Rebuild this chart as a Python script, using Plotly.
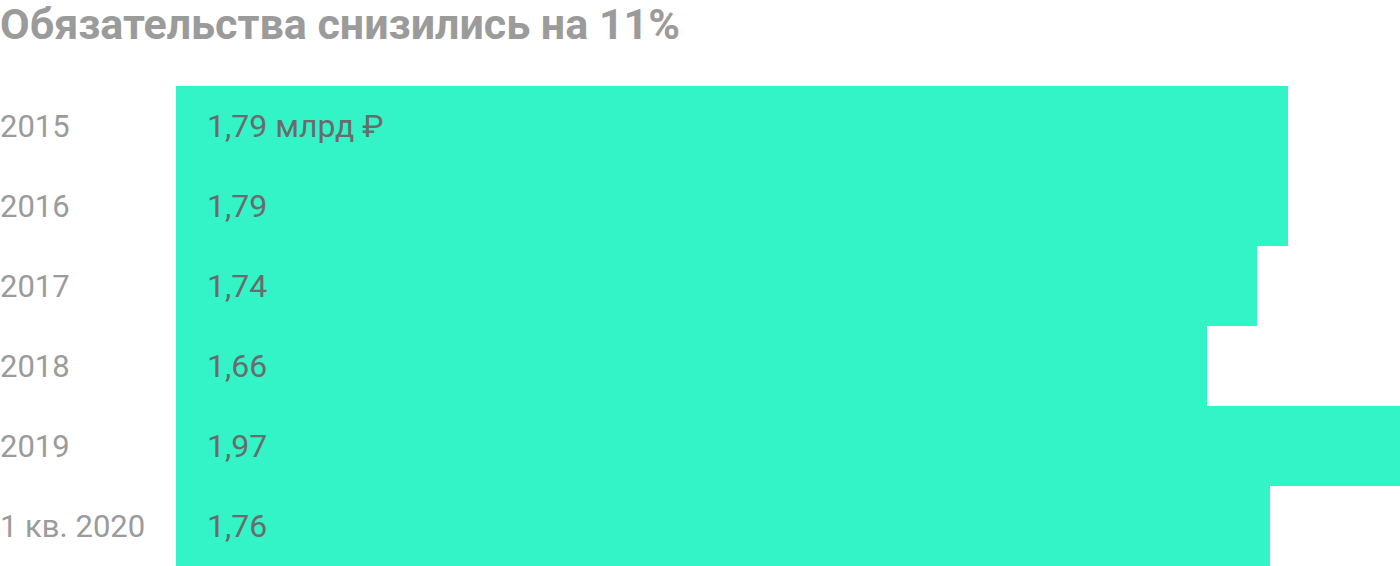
import plotly.graph_objects as go

CATEGORIES = ["2015", "2016", "2017", "2018", "2019", "1 кв. 2020"]
VALUES = [1.79, 1.79, 1.74, 1.66, 1.97, 1.76]
BAR_LABELS = ["1,79 млрд ₽", "1,79", "1,74", "1,66", "1,97", "1,76"]

TITLE = "Обязательства снизились на 11%"
BAR_COLOR = "#33F4C6"
GREY = "#9B9B9B"
DARK = "#6B6B6B"
FONT = "Roboto, sans-serif"

fig = go.Figure()
fig.add_trace(
    go.Bar(
        y=CATEGORIES,
        x=VALUES,
        orientation="h",
        marker=dict(color=BAR_COLOR, line=dict(width=0)),
        hoverinfo="skip",
    )
)

# category axis: annotations are placed by category index, since a
# string like "2015" would be read as an index rather than a category name
for i, (cat, lab) in enumerate(zip(CATEGORIES, BAR_LABELS)):
    # value labels inside the bars, near the bar start
    fig.add_annotation(
        x=0, y=i, xref="x", yref="y", text=lab, showarrow=False,
        xanchor="left", xshift=29, font=dict(family=FONT, size=32, color=DARK),
    )
    # category labels flush with the left edge of the page
    fig.add_annotation(
        x=-176 / 1224, y=i, xref="paper", yref="y", text=cat, showarrow=False,
        xanchor="left", xshift=-2, font=dict(family=FONT, size=31, color=GREY),
    )

fig.update_layout(
    width=1400,
    height=566,
    title=dict(
        text=f"<b>{TITLE}</b>",
        x=0, xref="container", xanchor="left",
        y=1 - 24 / 566, yref="container", yanchor="middle",
        font=dict(family=FONT, size=43, color=GREY),
    ),
    margin=dict(l=176, r=0, t=86, b=0),
    paper_bgcolor="#FFFFFF",
    plot_bgcolor="#FFFFFF",
    bargap=0,
    showlegend=False,
    xaxis=dict(range=[0, max(VALUES)], visible=False, fixedrange=True),
    yaxis=dict(type="category", categoryorder="array", categoryarray=CATEGORIES,
               range=[len(CATEGORIES) - 0.5, -0.5], showticklabels=False,
               showgrid=False, zeroline=False, fixedrange=True),
)

fig.write_html(
    "out.html",
    config={"displayModeBar": False},
    post_script="document.body.style.margin = '0';",
)
